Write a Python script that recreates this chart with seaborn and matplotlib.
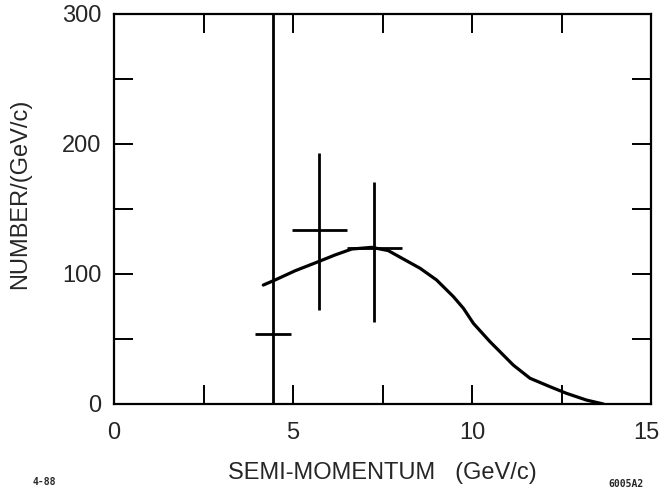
import matplotlib
matplotlib.use("Agg")
import matplotlib.pyplot as plt
import seaborn as sns
import pandas as pd
from matplotlib.ticker import MultipleLocator
import matplotlib.transforms as mtransforms

# ---- data ----
curve_x = [4.17, 4.50, 5.06, 5.71, 6.17, 6.64, 7.20, 7.66, 8.13, 8.55, 9.01,
           9.48, 9.76, 10.04, 10.50, 10.97, 11.15, 11.62, 12.18, 12.64, 13.20, 13.67]
curve_y = [91.5, 95.4, 102.5, 109.5, 114.6, 119.2, 120.5, 118.0, 110.8, 104.4, 95.4,
           82.6, 73.6, 62.0, 48.0, 35.0, 30.0, 19.8, 13.3, 8.2, 3.0, 0.0]

pt_x = [4.45, 5.74, 7.27]
pt_y = [54, 134, 120]
pt_xlo = [0.5, 0.77, 0.77]
pt_xhi = [0.5, 0.77, 0.78]
pt_ylo = [54, 62, 57]
pt_yhi = [260, 59, 51]

x_major = [0, 5, 10, 15]
y_major = [0, 100, 200, 300]

sns.set_style("ticks")
plt.rcParams['font.family'] = ['Liberation Sans', 'DejaVu Sans']

fig = plt.figure(figsize=(6.62, 4.92), dpi=100)
ax = fig.add_axes([114/662, 1-404/492, (651-114)/662, (404-14)/492])

df = pd.DataFrame({"x": curve_x, "y": curve_y})
sns.lineplot(data=df, x="x", y="y", ax=ax, color="black", lw=2.3, sort=False)

ax.errorbar(pt_x, pt_y, xerr=[pt_xlo, pt_xhi], yerr=[pt_ylo, pt_yhi],
            fmt="none", ecolor="black", elinewidth=2.0, capsize=0)

ax.set_xlim(0, 15)
ax.set_ylim(0, 300)
ax.set_xticks(x_major)
ax.set_yticks(y_major)
ax.set_xticklabels([str(v) for v in x_major])
ax.set_yticklabels([str(v) for v in y_major])
ax.xaxis.set_minor_locator(MultipleLocator(2.5))
ax.yaxis.set_minor_locator(MultipleLocator(50))

for which in ("major", "minor"):
    ax.tick_params(axis="both", which=which, direction="in", length=13.5, width=1.4,
                   top=True, right=True, color="black")
ax.tick_params(axis="x", which="major", labelsize=17, pad=13)
ax.tick_params(axis="y", which="major", labelsize=17, pad=9)

# nudge the last x label so it stays inside the figure, as in the reference
last = ax.get_xticklabels()[-1]
last.set_transform(last.get_transform() + mtransforms.ScaledTranslation(-3/72, 0, fig.dpi_scale_trans))

for s in ax.spines.values():
    s.set_linewidth(1.6)
    s.set_color("black")

ax.set_xlabel("SEMI-MOMENTUM   (GeV/c)", fontsize=17)
ax.set_ylabel("NUMBER/(GeV/c)", fontsize=17)
ax.xaxis.set_label_coords(0.5, -0.15)
ax.yaxis.set_label_coords(-0.155, 0.54)

fig.text(33/662, 1-482/492, "4-88", fontsize=7, fontweight="bold",
         family="DejaVu Sans Mono", ha="left", va="center")
fig.text(626/662, 1-484/492, "6005A2", fontsize=7, fontweight="bold",
         family="DejaVu Sans Mono", ha="center", va="center")

fig.savefig("out.png", dpi=100, facecolor="white")
